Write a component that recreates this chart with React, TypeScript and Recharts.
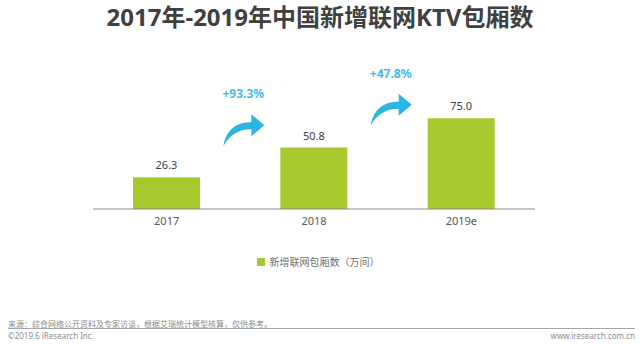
import { BarChart, Bar, XAxis, YAxis, LabelList } from 'recharts';

const years = ['2017', '2018', '2019e'];
const rooms = [26.3, 50.8, 75.0];
const growth = ['', '+93.3%', '+47.8%'];
const seriesName = '新增联网包厢数（万间）';

const data = years.map((year, i) => ({ year, rooms: rooms[i], growth: growth[i] }));

const FONT = "'Noto Sans', 'Noto Sans CJK SC', sans-serif";
const GREEN = '#a8c92d';
const BLUE = '#2bb4e6';

// curved growth arrow drawn left of each bar after the first
const GrowthArrow = (props: any) => {
  const { x, y, value } = props;
  if (!value) return null;
  const tx = x - 16;
  const ty = 0.7 * y + 22;
  const d = `M ${tx - 41} ${ty + 21}
    C ${tx - 38} ${ty + 4}, ${tx - 28} ${ty - 3}, ${tx - 13} ${ty - 3}
    L ${tx - 13} ${ty - 11} L ${tx} ${ty} L ${tx - 13} ${ty + 11} L ${tx - 13} ${ty + 4}
    C ${tx - 26} ${ty + 4}, ${tx - 35} ${ty + 10}, ${tx - 41} ${ty + 21} Z`;
  return (
    <g>
      <path d={d} fill={BLUE} />
      <text x={tx - 21} y={ty - 27} textAnchor="middle" fill="#45bce8" fontSize={12} fontWeight={700} fontFamily={FONT}>
        {value}
      </text>
    </g>
  );
};

export default function App() {
  return (
    <div style={{ position: 'relative', width: 640, height: 344, background: '#fff', fontFamily: FONT, overflow: 'hidden' }}>
      <style>{'html,body{margin:0;padding:0;overflow:hidden}'}</style>
      <div style={{ position: 'absolute', top: 2, left: 0, width: 640, textAlign: 'center', fontSize: 24, fontWeight: 700, color: '#404040', lineHeight: '30px' }}>
        2017年-2019年中国新增联网KTV包厢数
      </div>
      <BarChart width={640} height={344} data={data} margin={{ top: 88, right: 105, left: 93, bottom: 115 }} barSize={67}>
        <XAxis
          dataKey="year"
          axisLine={{ stroke: '#8a8a8a' }}
          tickLine={false}
          tick={{ fill: '#595959', fontSize: 11, fontFamily: FONT }}
          height={20}
        />
        <YAxis hide domain={[0, 100]} />
        <Bar dataKey="rooms" name={seriesName} fill={GREEN} isAnimationActive={false}>
          <LabelList dataKey="rooms" position="top" offset={8} fill="#404040" fontSize={11} fontFamily={FONT} formatter={(v: any) => Number(v).toFixed(1)} />
          <LabelList dataKey="growth" content={<GrowthArrow />} />
        </Bar>
      </BarChart>
      <div style={{ position: 'absolute', top: 255, left: 0, width: 640, display: 'flex', justifyContent: 'center', alignItems: 'center', fontSize: 10, color: '#707070', lineHeight: '14px' }}>
        <span style={{ display: 'inline-block', width: 8, height: 8, background: GREEN, marginRight: 5, marginLeft: -4 }} />
        <span>{seriesName}</span>
      </div>
      <div style={{ position: 'absolute', left: 8, top: 318, fontSize: 8, color: '#8c8c8c', lineHeight: '11px', whiteSpace: 'nowrap' }}>
        来源：综合网络公开资料及专家访谈，根据艾瑞统计模型核算，仅供参考。
      </div>
      <div style={{ position: 'absolute', left: 8, top: 328, width: 627, height: 1, background: '#a6a6a6' }} />
      <div style={{ position: 'absolute', left: 8, top: 330, fontSize: 8, color: '#8c8c8c', lineHeight: '11px', whiteSpace: 'nowrap' }}>
        ©2019.6 iResearch Inc.
      </div>
      <div style={{ position: 'absolute', right: 5, top: 330, fontSize: 8, color: '#8c8c8c', lineHeight: '11px', whiteSpace: 'nowrap' }}>
        www.iresearch.com.cn
      </div>
    </div>
  );
}
